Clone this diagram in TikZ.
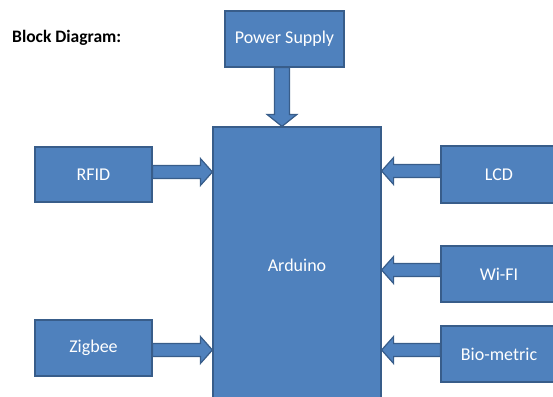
\documentclass[tikz,border=0pt]{standalone}
\usepackage{fontspec}
\setmainfont{Carlito}
\usetikzlibrary{calc}
\definecolor{boxfill}{HTML}{4F81BD}
\definecolor{boxline}{HTML}{385D8A}
\tikzset{
  blk/.style={draw=boxline, fill=boxfill, line width=1.2pt, text=white,
    font=\fontsize{18}{21}\selectfont, inner sep=0pt},
  barrow/.style={draw=boxline, fill=boxfill, line width=1.2pt, line join=miter},
}
% horizontal block arrow: #1 start anchor, #2 tip anchor, #3 y, #4 direction (1 right, -1 left)
\newcommand{\hbarrow}[4]{%
  \draw[barrow] (#1 |- 0,#3-6.5) -- ($(#2 |- 0,#3-6.5)+(-12*#4,0)$)
    -- ($(#2 |- 0,#3-13.5)+(-12*#4,0)$) -- (#2 |- 0,#3)
    -- ($(#2 |- 0,#3+13.5)+(-12*#4,0)$) -- ($(#2 |- 0,#3+6.5)+(-12*#4,0)$)
    -- (#1 |- 0,#3+6.5) -- cycle;}
\begin{document}
\begin{tikzpicture}[x=1pt,y=-1pt]
\useasboundingbox (0,0) rectangle (553,396);
\clip (0,0) rectangle (553,396);

\node[anchor=base west, inner sep=0pt, font=\bfseries\fontsize{17.5}{20}\selectfont] (title) at (12,43) {Block Diagram:};

\node[blk, minimum width=119pt, minimum height=56pt] (power) at (284.5,39) {Power Supply};
\node[blk, minimum width=168pt, minimum height=276pt] (ard) at (297,265) {Arduino};
\node[blk, minimum width=117pt, minimum height=55pt] (rfid) at (93.5,174.5) {RFID};
\node[blk, minimum width=117pt, minimum height=56pt] (zig) at (93.5,348) {Zigbee};
\node[blk, minimum width=116pt, minimum height=57pt] (lcd) at (499,174.5) {LCD};
\node[blk, minimum width=116pt, minimum height=56pt] (wifi) at (499,274) {Wi-FI};
\node[blk, minimum width=116pt, minimum height=56pt] (bio) at (499,354) {Bio-metric};

% power -> arduino
\draw[barrow] (power.south -| 274.5,0) -- ($(ard.north -| 274.5,0)+(0,-12)$)
  -- ($(ard.north -| 267,0)+(0,-12)$) -- (ard.north -| 282,0)
  -- ($(ard.north -| 297,0)+(0,-12)$) -- ($(ard.north -| 289.5,0)+(0,-12)$)
  -- (power.south -| 289.5,0) -- cycle;

\hbarrow{rfid.east}{ard.west}{172}{1}
\hbarrow{zig.east}{ard.west}{350}{1}
\hbarrow{lcd.west}{ard.east}{171}{-1}
\hbarrow{wifi.west}{ard.east}{270}{-1}
\hbarrow{bio.west}{ard.east}{350}{-1}
\end{tikzpicture}
\end{document}
